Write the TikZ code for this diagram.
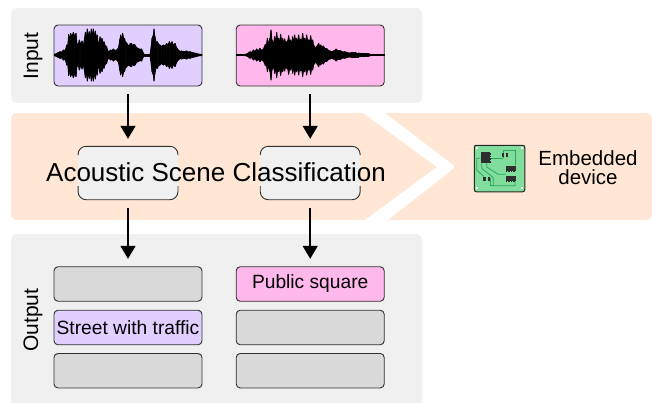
\documentclass[tikz,border=0pt]{standalone}
\usepackage{fontspec}
\setmainfont{Liberation Sans}
\usetikzlibrary{arrows.meta}
\definecolor{panelgray}{HTML}{F0F0F0}
\definecolor{bandorange}{HTML}{FFE6D5}
\definecolor{lilac}{HTML}{E1D0FF}
\definecolor{pinkbox}{HTML}{FFB8EC}
\definecolor{emptybox}{HTML}{D9D9D9}
\definecolor{edgecol}{HTML}{303030}
\definecolor{pcbgreen}{HTML}{80DD9B}
\definecolor{pcbtrace}{HTML}{2FA65F}
\definecolor{chipcol}{HTML}{2E2E2E}
\tikzset{
  panel/.style={fill=panelgray,rounded corners=6pt},
  wavebox/.style={draw=edgecol,line width=0.9pt,rounded corners=4pt,minimum width=148pt,minimum height=61pt,inner sep=0pt},
  outbox/.style={draw=edgecol,line width=0.9pt,rounded corners=4pt,minimum width=148pt,minimum height=34.5pt,inner sep=0pt,font=\fontsize{19.2}{19.2}\selectfont},
  procbox/.style={fill=panelgray,rounded corners=8pt,minimum width=99.5pt,minimum height=53pt,inner sep=0pt},
  procedge/.style={draw=edgecol,line width=0.9pt,rounded corners=8pt},
  flow/.style={line width=1.5pt,-{Triangle[width=15pt,length=13pt]},shorten <=8pt,shorten >=7.5pt},
  sidelabel/.style={rotate=90,inner sep=0pt,font=\fontsize{21}{21}\selectfont},
  wavefill/.style={fill=black,draw=black,line width=0.7pt,line join=round},
  trace/.style={draw=pcbtrace,line width=0.8pt},
  chip/.style={fill=chipcol},
  pinchip/.style={fill=chipcol,draw=chipcol,line width=1pt,dash pattern=on 0.8pt off 0.8pt},
}
\begin{document}
\begin{tikzpicture}[x=1pt,y=-1pt]
\useasboundingbox (0,0) rectangle (652,402);
\clip (0,0) rectangle (652,402);
% panels
\fill[panel] (11,8) rectangle (422,103);
\fill[panel] (11,234) rectangle (422,408);
\fill[bandorange,rounded corners=6pt] (11,113) rectangle (652,220);
\fill[white] (356,108) -- (378,108) -- (385,113) -- (453,165) [rounded corners=2pt] -- (455,167) -- (453,169) [sharp corners] -- (388,220) -- (381,225) -- (358,225) -- (365,220) -- (437,167) -- (363,113) -- cycle;
% labels
\node[sidelabel] (inlab) at (33,56) {Input};
\node[sidelabel] (outlab) at (33,320) {Output};
% wave boxes
\node[wavebox,fill=lilac] (w1) at (128,55.5) {};
\node[wavebox,fill=pinkbox] (w2) at (310.2,55.5) {};
% wave 1
\foreach \x/\a [remember=\x as \px (initially 14),remember=\a as \pa (initially 1)] in {
 14/2,22/6,30/10,36/9,40/15,46/14,50/30,53/28,56/62,59/50,62/65,66/55,70/68,74/58,78/65,81/35,84/28,88/45,92/33,96/42,100/30,103/45,106/68,109/55,112/78,115/60,118/70,121/55,124/78,127/62,130/78,133/60,136/72,139/55,142/60,144/40,147/38,150/55,153/40,156/50,159/38,162/40,166/28,170/25,173/14,176/8,179/12,182/15,186/13,190/18,195/14,200/15,203/18,206/25,209/45,212/60,215/50,218/65,221/50,224/50,226/40,230/36,234/30,238/30,241/35,245/35,248/27,251/32,255/30,260/22,265/20,270/17,275/18,278/10,282/3,291/3,300/3,302/15,304/30,306/50,308/55,310/60,312/78,314/60,316/50,319/38,322/40,326/32,330/30,335/26,340/30,345/27,350/35,354/30,358/40,362/32,366/40,370/30,375/35,380/22,385/15,390/11,395/12,402/10,410/12,415/9,420/10,425/8,430/7,438/5,445/3,452/2,456/1}
{\fill[wavefill] ({50+\px/3},{55-\pa/3}) -- ({50+\x/3},{55-\a/3}) -- ({50+\x/3},{55+\a/3}) -- ({50+\px/3},{55+\pa/3}) -- cycle;}
% wave 2
\foreach \x/\a [remember=\x as \px (initially 20),remember=\a as \pa (initially 1)] in {
 20/1,35/1,50/3,55/6,60/10,65/8,70/15,75/11,80/18,85/13,90/20,95/14,100/18,103/24,106/32,109/28,112/50,115/35,118/45,120/50,123/75,126/45,128/40,131/38,134/55,137/45,140/68,143/45,146/50,149/42,152/62,155/42,158/50,161/38,164/48,167/36,170/40,173/42,176/58,179/40,182/45,185/38,188/55,191/42,194/60,197/42,200/50,203/42,206/60,209/40,212/48,215/44,218/65,221/44,224/50,227/42,230/60,233/42,236/45,239/42,242/58,245/40,248/45,251/30,254/25,257/22,260/25,263/30,266/35,269/26,272/30,276/24,280/27,285/20,290/20,295/14,300/12,305/10,310/12,314/14,318/18,324/13,330/14,338/9,345/10,352/7,360/6,367/8,375/8,380/6,385/6,392/5,400/5,408/4,415/4,422/2,430/1,446/1,462/1}
{\fill[wavefill] ({230+\px/3},{55-\pa/3}) -- ({230+\x/3},{55-\a/3}) -- ({230+\x/3},{55+\a/3}) -- ({230+\px/3},{55+\pa/3}) -- cycle;}
% process boxes
\node[procbox] (p1) at (128,173) {};
\node[procbox] (p2) at (310.2,173) {};
\draw[procedge] ([yshift=18pt]p1.west) -- (p1.north west) -- (p1.north east) -- ([yshift=18pt]p1.east);
\draw[procedge] ([yshift=-13pt]p1.west) -- (p1.south west) -- (p1.south east) -- ([yshift=-13pt]p1.east);
\draw[procedge] ([yshift=18pt]p2.west) -- (p2.north west) -- (p2.north east) -- ([yshift=18pt]p2.east);
\draw[procedge] ([yshift=-13pt]p2.west) -- (p2.south west) -- (p2.south east) -- ([yshift=-13pt]p2.east);
\node[anchor=base,inner sep=0pt,font=\fontsize{26}{26}\selectfont] (title) at (216,181.2) {Acoustic Scene Classification};
% output boxes
\node[outbox,fill=emptybox] (o11) at (128,284) {};
\node[outbox,fill=lilac] (o12) at (128,327.5) {Street with traffic};
\node[outbox,fill=emptybox] (o13) at (128,370.7) {};
\node[outbox,fill=pinkbox] (o21) at (310.2,284) {Public square};
\node[outbox,fill=emptybox] (o22) at (310.2,327.5) {};
\node[outbox,fill=emptybox] (o23) at (310.2,370.7) {};
% connectors
\draw[flow] (w1) -- (p1);
\draw[flow] (w2) -- (p2);
\draw[flow] (p1) -- (o11);
\draw[flow] (p2) -- (o21);
% pcb
\node[fill=pcbgreen,draw=black!85,line width=1pt,rounded corners=2pt,minimum width=50.5pt,minimum height=46.5pt,inner sep=0pt] (pcb) at (499.5,168.5) {};
\begin{scope}[shift={(460,135)}]
\draw[trace] ({130/3},{70/3}) -- ({130/3},{45/3}) -- ({165/3},{45/3}) -- ({165/3},{90/3});
\draw[trace] ({92/3},{70/3}) -- ({130/3},{70/3});
\draw[trace] ({62/3},{70/3}) -- ({50/3},{70/3}) -- ({50/3},{105/3}) -- ({72/3},{125/3});
\draw[trace] ({65/3},{85/3}) -- ({65/3},{100/3}) -- ({100/3},{128/3}) -- ({100/3},{152/3}) -- ({165/3},{152/3}) -- ({165/3},{138/3});
\draw[trace] ({80/3},{85/3}) -- ({80/3},{96/3}) -- ({115/3},{118/3}) -- ({137/3},{118/3});
\draw[trace] ({92/3},{130/3}) -- ({92/3},{152/3}) -- ({100/3},{152/3});
\fill[pinchip] ({63/3},{52/3}) rectangle ({91/3},{83/3});
\fill[chip] ({126/3},{55/3}) rectangle ({133/3},{66/3});
\fill[chip] ({137/3},{55/3}) rectangle ({144/3},{66/3});
\fill[pinchip] ({138/3},{94/3}) rectangle ({167/3},{108/3});
\fill[pinchip] ({138/3},{124/3}) rectangle ({167/3},{138/3});
\fill[chip] ({70/3},{127/3}) rectangle ({79/3},{137/3});
\fill[chip] ({83/3},{127/3}) rectangle ({90/3},{137/3});
\foreach \cx/\cy in {50/40,185/40,50/160,185/160}
  \fill[white] ({\cx/3-1},{\cy/3-1}) rectangle ({\cx/3+1},{\cy/3+1});
\end{scope}
\node[align=center,inner sep=0pt,font=\fontsize{20.5}{19}\selectfont] (dev) at (588,167.5) {Embedded\\device};
\end{tikzpicture}
\end{document}
